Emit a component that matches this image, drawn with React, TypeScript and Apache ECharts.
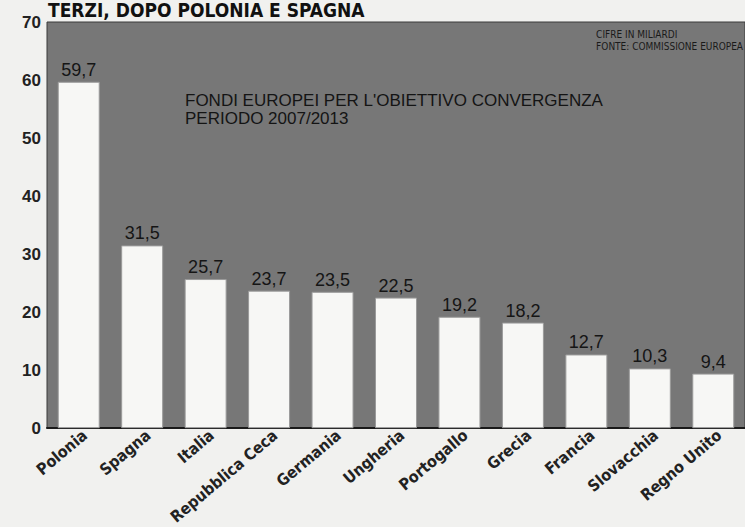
import React, { useEffect, useRef } from "react";
import * as echarts from "echarts";

const categories = ["Polonia", "Spagna", "Italia", "Repubblica Ceca", "Germania", "Ungheria", "Portogallo", "Grecia", "Francia", "Slovacchia", "Regno Unito"];
const values = [59.7, 31.5, 25.7, 23.7, 23.5, 22.5, 19.2, 18.2, 12.7, 10.3, 9.4];
const yTicks = { min: 0, max: 70, interval: 10 };
const headline = "TERZI, DOPO POLONIA E SPAGNA";
const innerTitle = ["FONDI EUROPEI PER L'OBIETTIVO CONVERGENZA", "PERIODO 2007/2013"];
const sourceNote = ["CIFRE IN MILIARDI", "FONTE: COMMISSIONE EUROPEA"];

const COND = "'DejaVu Sans Condensed', 'Liberation Sans', sans-serif";

export default function App() {
  const ref = useRef<HTMLDivElement>(null);
  useEffect(() => {
    if (!ref.current) return;
    const chart = echarts.init(ref.current, null, { renderer: "svg" });
    chart.setOption({
      animation: false,
      backgroundColor: "#f1f1ef",
      grid: {
        left: 47,
        right: 0,
        top: 22,
        bottom: 97,
        show: true,
        backgroundColor: "#777777",
        borderColor: "#3a3a3a",
        borderWidth: 1,
      },
      xAxis: {
        type: "category",
        data: categories,
        axisLine: { show: true, lineStyle: { color: "#1a1a1a", width: 2 } },
        axisTick: { show: false },
        axisLabel: {
          rotate: 40,
          interval: 0,
          margin: 10,
          padding: [0, -8, 0, 0],
          fontFamily: COND,
          fontWeight: "bold",
          fontSize: 16,
          color: "#222",
        },
      },
      yAxis: {
        type: "value",
        min: yTicks.min,
        max: yTicks.max,
        interval: yTicks.interval,
        splitLine: { show: false },
        axisLine: { show: false },
        axisTick: { show: false },
        axisLabel: {
          fontFamily: "Liberation Sans",
          fontWeight: "bold",
          fontSize: 17,
          color: "#222",
          margin: 6,
        },
      },
      series: [
        {
          type: "bar",
          data: values,
          barWidth: 42,
          itemStyle: { color: "#f7f7f5", borderColor: "#9a9a9a", borderWidth: 1 },
          label: {
            show: true,
            position: "top",
            distance: 3,
            fontFamily: "Liberation Sans",
            fontSize: 18,
            color: "#151515",
            formatter: (p: any) => String(p.value).replace(".", ","),
          },
        },
      ],
      graphic: [
        {
          type: "text",
          left: 48,
          top: 0,
          style: {
            text: headline,
            font: "bold 19px " + COND,
            fill: "#111",
          },
        },
        {
          type: "text",
          left: 185,
          top: 91,
          style: {
            text: innerTitle.join("\n"),
            font: "17px 'Liberation Sans'",
            lineHeight: 18,
            fill: "#141414",
          },
        },
        {
          type: "text",
          right: 2,
          top: 28,
          style: {
            text: sourceNote.join("\n"),
            font: "10px " + COND,
            lineHeight: 12,
            fill: "#1a1a1a",
            align: "right",
          },
        },
      ],
    });
    return () => chart.dispose();
  }, []);
  return <div ref={ref} style={{ position: "absolute", left: 0, top: 0, width: 745, height: 527 }} />;
}
